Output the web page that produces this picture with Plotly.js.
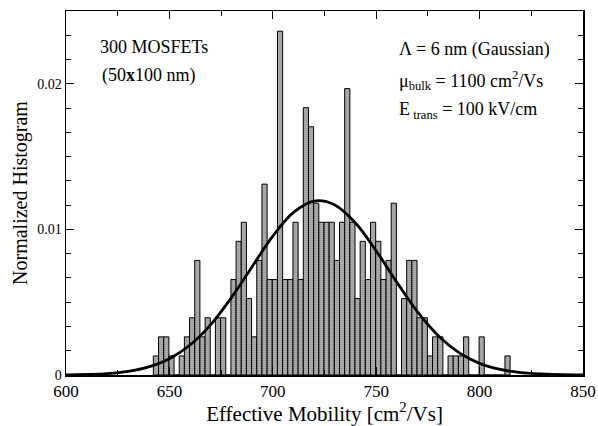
<!DOCTYPE html>
<html>
<head>
<meta charset="utf-8">
<script src="https://cdn.plot.ly/plotly-3.0.1.min.js"></script>
<style>
  html, body { margin: 0; padding: 0; background: #fff; }
  #chart { width: 598px; height: 426px; }
</style>
</head>
<body>
<div id="chart"></div>
<script>
// Histogram bins of effective mobility (cm^2/Vs), bin width 2.5
const binWidth = 2.5;
const binCenters = [
  643.5, 646, 648.5, 651, 653.5, 656, 658.5, 661, 663.5, 666,
  668.5, 671, 673.5, 676, 678.5, 681, 683.5, 686, 688.5, 691,
  693.5, 696, 698.5, 701, 703.5, 706, 708.5, 711, 713.5, 716,
  718.5, 721, 723.5, 726, 728.5, 731, 733.5, 736, 738.5, 741,
  743.5, 746, 748.5, 751, 753.5, 756, 758.5, 761, 763.5, 766,
  768.5, 771, 773.5, 776, 778.5, 781, 783.5, 786, 788.5, 791,
  793.5, 796, 798.5, 801, 803.5, 806, 808.5, 811, 813.5
];
// Normalized histogram heights
const histValues = [
  0.00131, 0.00262, 0.00262, 0.00131, 0,       0.00131, 0.00262, 0.00393, 0.00787, 0.00262,
  0.00393, 0,       0.00393, 0.00393, 0,       0.00656, 0.00918, 0.01049, 0.00525, 0.00262,
  0.00787, 0.01311, 0.00656, 0.00656, 0.02361, 0.00656, 0.00656, 0.01049, 0.00656, 0.01836,
  0.01705, 0.01180, 0.01049, 0.01049, 0.01049, 0.00787, 0.01049, 0.01967, 0.01049, 0.00525,
  0.00918, 0.00656, 0.01049, 0.00918, 0.00656, 0.00787, 0.01180, 0,       0.00525, 0.00787,
  0.00787, 0.00393, 0.00393, 0.00131, 0.00262, 0.00262, 0,       0.00131, 0.00131, 0.00131,
  0.00262, 0,       0,       0.00262, 0,       0,       0,       0,       0.00131
];
// Gaussian fit curve
const curveX = [600, 610, 620, 630, 640, 650, 660, 670, 680, 690, 700, 710, 720,
                730, 740, 750, 760, 770, 780, 790, 800, 810, 820, 830, 840, 850];
const curveY = [0.00001, 0.00004, 0.0001, 0.00025, 0.00056, 0.00112, 0.00206, 0.00346,
                0.00531, 0.00744, 0.00954, 0.01117, 0.01195, 0.01168, 0.01044, 0.00852,
                0.00636, 0.00433, 0.0027, 0.00154, 0.0008, 0.00038, 0.00017, 0.00007,
                0.00002, 0.00001];

const serif = 'Liberation Serif, Times New Roman, serif';

const bars = {
  type: 'bar',
  x: binCenters,
  y: histValues,
  width: binWidth,
  marker: {
    color: '#c4c4c4',
    pattern: { shape: '.', size: 2, solidity: 0.3, fgcolor: '#303030', bgcolor: '#cacaca' },
    line: { color: '#000', width: 1 }
  },
  hoverinfo: 'x+y'
};

const fit = {
  type: 'scatter',
  mode: 'lines',
  x: curveX,
  y: curveY,
  line: { color: '#000', width: 2.8, shape: 'spline', smoothing: 1 },
  hoverinfo: 'skip'
};

const layout = {
  width: 598,
  height: 426,
  margin: { l: 66, r: 15, t: 11, b: 51 },
  paper_bgcolor: '#fff',
  plot_bgcolor: '#fff',
  showlegend: false,
  bargap: 0,
  font: { family: serif, color: '#000' },
  xaxis: {
    range: [600, 850],
    tick0: 600,
    dtick: 50,
    ticks: 'inside',
    ticklen: 8,
    tickwidth: 1,
    tickcolor: '#000',
    minor: { dtick: 25, ticks: 'inside', ticklen: 5, tickcolor: '#000' },
    showline: true,
    linecolor: '#000',
    linewidth: 1.5,
    mirror: 'ticks',
    showgrid: false,
    zeroline: false,
    tickfont: { size: 17, family: serif },
    title: { text: 'Effective Mobility [cm<sup>2</sup>/Vs]', font: { size: 21, family: serif }, standoff: 0 },
    automargin: false
  },
  yaxis: {
    range: [0, 0.025],
    tick0: 0,
    dtick: 0.01,
    ticks: 'inside',
    ticklen: 8,
    tickwidth: 1,
    tickcolor: '#000',
    minor: { dtick: 0.01 / 6, ticks: 'inside', ticklen: 5, tickcolor: '#000' },
    showline: true,
    linecolor: '#000',
    linewidth: 1.5,
    mirror: 'ticks',
    showgrid: false,
    zeroline: false,
    tickfont: { size: 14, family: serif },
    title: { text: 'Normalized Histogram', font: { size: 20, family: serif }, standoff: 4 },
    automargin: false
  },
  annotations: [
    { xref: 'paper', yref: 'paper', x: 0.061, y: 0.9, xanchor: 'left', yanchor: 'middle',
      showarrow: false, text: '300 MOSFETs', font: { size: 18, family: serif } },
    { xref: 'paper', yref: 'paper', x: 0.066, y: 0.822, xanchor: 'left', yanchor: 'middle',
      showarrow: false, text: '(50<b>x</b>100 nm)', font: { size: 18, family: serif } },
    { xref: 'paper', yref: 'paper', x: 0.64, y: 0.895, xanchor: 'left', yanchor: 'middle',
      showarrow: false, text: 'Λ = 6 nm (Gaussian)', font: { size: 18, family: serif } },
    { xref: 'paper', yref: 'paper', x: 0.64, y: 0.81, xanchor: 'left', yanchor: 'middle',
      showarrow: false, text: 'μ<sub>bulk</sub> = 1100 cm<sup>2</sup>/Vs', font: { size: 18, family: serif } },
    { xref: 'paper', yref: 'paper', x: 0.64, y: 0.728, xanchor: 'left', yanchor: 'middle',
      showarrow: false, text: 'E<sub> trans</sub> = 100 kV/cm', font: { size: 18, family: serif } }
  ]
};

Plotly.newPlot('chart', [bars, fit], layout, { displayModeBar: false, staticPlot: true });
</script>
</body>
</html>
